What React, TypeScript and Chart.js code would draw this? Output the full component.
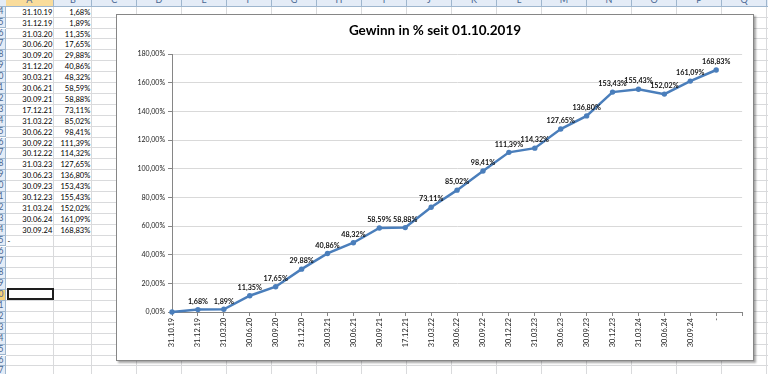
import React, { useEffect, useRef } from "react";
import { Chart, registerables } from "chart.js";

Chart.register(...registerables);

// ---- data ----
const dates = [
  "31.10.19", "31.12.19", "31.03.20", "30.06.20", "30.09.20", "31.12.20",
  "30.03.21", "30.06.21", "30.09.21", "17.12.21", "31.03.22", "30.06.22",
  "30.09.22", "30.12.22", "31.03.23", "30.06.23", "30.09.23", "30.12.23",
  "31.03.24", "30.06.24", "30.09.24",
];
const gainPct = [
  1.68, 1.89, 11.35, 17.65, 29.88, 40.86, 48.32, 58.59, 58.88, 73.11, 85.02,
  98.41, 111.39, 114.32, 127.65, 136.8, 153.43, 155.43, 152.02, 161.09, 168.83,
];
const startValue = 0;
const axisLabels = [...dates, "-", ""];
const seriesValues: (number | null)[] = [startValue, ...gainPct, null];
const yMin = 0;
const yMax = 180;
const yStep = 20;
const chartTitle = "Gewinn in % seit 01.10.2019";
const columnLetters = ["A", "B", "C", "D", "E", "F", "G", "H", "I", "J", "K", "L", "M", "N", "O", "P", "Q", "R"];
const firstRow = 4;
const lastRow = 37;
const activeRow = 30;

// ---- layout / style constants ----
const ROW_TOP = 6.7;
const ROW_H = 10.9;
const COL_EDGES = [5.5, 54.3, 92.3, 137, 182, 227, 272, 317, 362, 407, 452, 497, 542, 587, 632, 677, 722, 767, 812];
const GRID = "#d9dadc";
const HEADER_BG = "#e4ecf7";
const HEADER_LINE = "#9eb6ce";
const HEADER_TXT = "#4a6792";
const BLUE = "#4a7ebb";
const AXIS = "#868686";
const CH_GRID = "#d9d9d9";
const FONT = "Lato, 'Open Sans', sans-serif";

const fmtPct = (v: number) => v.toFixed(2).replace(".", ",") + "%";

const CHART_LEFT = 116;
const CHART_TOP = 14;
const CHART_W = 638;
const CHART_H = 347;

function Sheet() {
  const rows: number[] = [];
  for (let r = firstRow; r <= lastRow; r++) rows.push(r);
  const rowTop = (r: number) => ROW_TOP + (r - firstRow) * ROW_H;
  const cellText: React.CSSProperties = {
    position: "absolute",
    fontFamily: FONT,
    fontSize: 7.6,
    lineHeight: `${ROW_H}px`,
    color: "#000",
    whiteSpace: "nowrap",
  };
  return (
    <>
      {/* header row */}
      <div style={{ position: "absolute", left: 0, top: -14, width: 800, height: 14 + ROW_TOP, background: HEADER_BG, borderBottom: `1px solid ${HEADER_LINE}`, boxSizing: "border-box" }} />
      {columnLetters.map((c, i) => (
        <div key={c} style={{ position: "absolute", left: COL_EDGES[i], top: -14, width: COL_EDGES[i + 1] - COL_EDGES[i], height: 14 + ROW_TOP, background: i === 0 ? "#f9dc9c" : HEADER_BG, borderRight: `1px solid ${HEADER_LINE}`, borderBottom: `1px solid ${HEADER_LINE}`, boxSizing: "border-box" }}>
          <div style={{ position: "absolute", left: 0, right: 0, top: 9, textAlign: "center", fontFamily: FONT, fontSize: 9, lineHeight: "10px", color: HEADER_TXT }}>{c}</div>
        </div>
      ))}
      {/* row header */}
      {rows.map((r) => (
        <div key={"rh" + r} style={{ position: "absolute", left: -30, top: rowTop(r), width: 30 + COL_EDGES[0], height: ROW_H, background: r === activeRow ? "#f8d27c" : HEADER_BG, borderRight: `1px solid ${HEADER_LINE}`, borderBottom: `1px solid ${HEADER_LINE}`, boxSizing: "border-box", textAlign: "right", paddingRight: 1, fontFamily: FONT, fontSize: 8.5, lineHeight: `${ROW_H - 1}px`, color: HEADER_TXT }}>{r}</div>
      ))}
      {/* horizontal grid lines */}
      {rows.map((r) => (
        <div key={"hl" + r} style={{ position: "absolute", left: COL_EDGES[0], top: rowTop(r + 1) - 1, width: 800, height: 1, background: GRID }} />
      ))}
      {/* vertical grid lines */}
      {COL_EDGES.slice(1).map((x, i) => (
        <div key={"vl" + i} style={{ position: "absolute", left: x - 1, top: ROW_TOP, width: 1, height: 400, background: GRID }} />
      ))}
      {/* cell values */}
      {dates.map((d, i) => (
        <div key={"a" + i} style={{ ...cellText, left: COL_EDGES[0], width: COL_EDGES[1] - COL_EDGES[0] - 2, top: rowTop(firstRow + i), textAlign: "right" }}>{d}</div>
      ))}
      {gainPct.map((v, i) => (
        <div key={"b" + i} style={{ ...cellText, left: COL_EDGES[1], width: COL_EDGES[2] - COL_EDGES[1] - 2, top: rowTop(firstRow + i), textAlign: "right" }}>{fmtPct(v)}</div>
      ))}
      <div style={{ ...cellText, left: COL_EDGES[0] + 2, top: rowTop(firstRow + dates.length) }}>-</div>
      {/* active cell */}
      <div style={{ position: "absolute", left: COL_EDGES[0] + 1, top: rowTop(activeRow) - 2, width: COL_EDGES[1] - COL_EDGES[0] - 1, height: ROW_H + 1, border: "2px solid #1e1e1e", boxSizing: "border-box" }} />
    </>
  );
}

export default function App() {
  const canvasRef = useRef<HTMLCanvasElement | null>(null);

  useEffect(() => {
    const canvas = canvasRef.current;
    if (!canvas) return;

    const titlePlugin = {
      id: "excelTitle",
      afterDraw(chart: any) {
        const ctx = chart.ctx;
        ctx.save();
        ctx.font = `bold 13.5px ${FONT}`;
        ctx.fillStyle = "#000";
        ctx.textAlign = "center";
        ctx.textBaseline = "alphabetic";
        ctx.fillText(chartTitle, chart.width / 2, 20);
        ctx.restore();
      },
    };

    const labelPlugin = {
      id: "pointLabels",
      afterDatasetsDraw(chart: any) {
        const ctx = chart.ctx;
        const meta = chart.getDatasetMeta(0);
        const values = chart.data.datasets[0].data as (number | null)[];
        ctx.save();
        ctx.font = `bold 7.2px ${FONT}`;
        ctx.fillStyle = "#111";
        ctx.textAlign = "center";
        ctx.textBaseline = "bottom";
        meta.data.forEach((pt: any, i: number) => {
          const v = values[i];
          if (v == null || i === 0) return;
          ctx.fillText(fmtPct(v), pt.x, pt.y - 4.5);
        });
        ctx.restore();
      },
    };

    const chart = new Chart(canvas, {
      type: "line",
      data: {
        labels: axisLabels,
        datasets: [
          {
            data: seriesValues,
            borderColor: BLUE,
            backgroundColor: BLUE,
            borderWidth: 2.5,
            pointRadius: 2.7,
            pointHoverRadius: 2.7,
            pointBackgroundColor: BLUE,
            pointBorderColor: BLUE,
            pointBorderWidth: 0,
            tension: 0,
            clip: false as any,
          },
        ],
      },
      options: {
        responsive: false,
        animation: false,
        devicePixelRatio: 1,
        events: [],
        layout: { padding: { left: 0, right: 8, top: 39, bottom: 0 } },
        plugins: {
          legend: { display: false },
          tooltip: { enabled: false },
          title: { display: false },
        },
        scales: {
          x: {
            type: "category",
            offset: false,
            grid: { display: true, drawOnChartArea: false, drawTicks: true, tickLength: 4, color: AXIS },
            border: { color: AXIS, width: 1 },
            ticks: {
              autoSkip: false,
              maxRotation: 90,
              minRotation: 90,
              padding: 2,
              color: "#222",
              font: { family: FONT, size: 7.4 },
            },
            afterFit: (s: any) => {
              s.height = 48;
            },
          },
          y: {
            min: yMin,
            max: yMax,
            ticks: {
              stepSize: yStep,
              padding: 3,
              color: "#222",
              font: { family: FONT, size: 7 },
              callback: (v: any) => `${v},00%`,
            },
            grid: { color: CH_GRID, tickColor: AXIS, tickLength: 4, drawTicks: true },
            border: { color: AXIS, width: 1 },
            afterFit: (s: any) => {
              s.width = 55;
            },
          },
        },
      },
      plugins: [titlePlugin, labelPlugin],
    });

    return () => chart.destroy();
  }, []);

  return (
    <div style={{ position: "fixed", left: 0, top: 0, width: 768, height: 374, overflow: "hidden", background: "#fff" }}>
      <Sheet />
      <div style={{ position: "absolute", left: CHART_LEFT, top: CHART_TOP, width: CHART_W, height: CHART_H, border: `1px solid ${AXIS}`, boxSizing: "border-box", background: "#fff", boxShadow: "2px 2px 2px rgba(0,0,0,0.35)" }}>
        <canvas ref={canvasRef} width={CHART_W - 2} height={CHART_H - 2} style={{ display: "block", width: CHART_W - 2, height: CHART_H - 2 }} />
      </div>
    </div>
  );
}
